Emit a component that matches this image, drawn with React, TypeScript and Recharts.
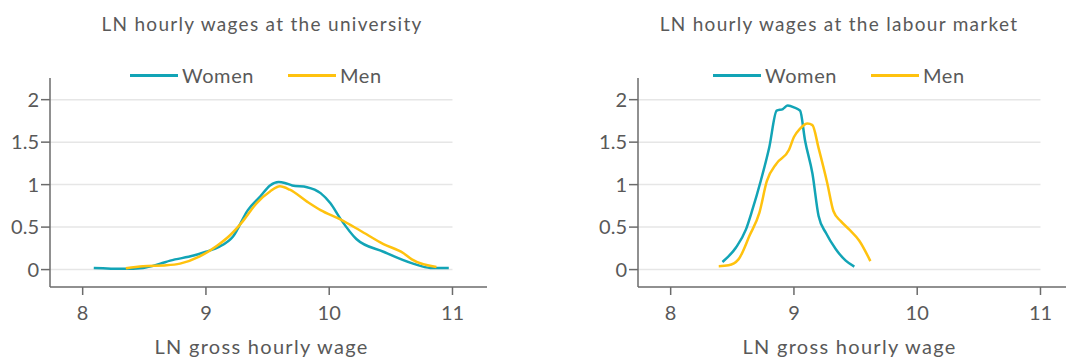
import React from 'react';
import { LineChart, Line, XAxis, YAxis, ReferenceLine } from 'recharts';

const xTicks = [8, 9, 10, 11];
const yTicks = [0, 0.5, 1, 1.5, 2];
const seriesNames = ['Women', 'Men'];
const seriesColors = ['#12a4b6', '#ffc20e'];

// Kernel density of ln hourly wage, university staff
const uniWomenX = [8.09, 8.33, 8.49, 8.63, 8.71, 8.9, 9.0, 9.11, 9.22, 9.34, 9.44, 9.52, 9.59, 9.64, 9.7, 9.82, 9.93, 10.01, 10.09, 10.22, 10.44, 10.68, 10.82, 10.97];
const uniWomenY = [0.02, 0.01, 0.02, 0.07, 0.105, 0.165, 0.21, 0.27, 0.39, 0.7, 0.86, 0.99, 1.03, 1.02, 0.99, 0.97, 0.9, 0.78, 0.6, 0.36, 0.21, 0.07, 0.02, 0.02];
const uniMenX = [8.35, 8.49, 8.68, 8.79, 8.95, 9.09, 9.2, 9.3, 9.41, 9.52, 9.6, 9.68, 9.82, 9.93, 10.09, 10.25, 10.44, 10.6, 10.67, 10.87];
const uniMenY = [0.015, 0.04, 0.05, 0.07, 0.155, 0.28, 0.41, 0.57, 0.78, 0.92, 0.98, 0.94, 0.8, 0.7, 0.59, 0.46, 0.3, 0.195, 0.12, 0.03];

// Kernel density of ln hourly wage, labour market
const labWomenX = [8.42, 8.53, 8.61, 8.66, 8.73, 8.8, 8.86, 8.91, 8.95, 9.0, 9.05, 9.09, 9.15, 9.2, 9.26, 9.34, 9.42, 9.49];
const labWomenY = [0.09, 0.26, 0.47, 0.69, 1.04, 1.44, 1.87, 1.89, 1.93, 1.91, 1.87, 1.52, 1.13, 0.63, 0.43, 0.24, 0.105, 0.035];
const labMenX = [8.39, 8.47, 8.55, 8.64, 8.72, 8.78, 8.86, 8.96, 9.0, 9.05, 9.11, 9.15, 9.2, 9.27, 9.32, 9.38, 9.45, 9.53, 9.62];
const labMenY = [0.04, 0.05, 0.12, 0.4, 0.67, 1.04, 1.25, 1.41, 1.56, 1.66, 1.72, 1.7, 1.43, 1.02, 0.69, 0.57, 0.47, 0.34, 0.1];

const toPoints = (xs: number[], ys: number[]) => xs.map((x, i) => ({ x, y: ys[i] }));

const TEXT = '#595959';
const AXIS = '#6b6b6b';
const FONT = 'Lato, "Noto Sans", sans-serif';
const X_DOMAIN: [number, number] = [7.735, 11.28];
const Y_DOMAIN: [number, number] = [-0.205, 2.255];

type ChartProps = {
  title: string;
  series: { x: number; y: number }[][];
  left: number;
  titleCenter: number;
  legendLeft: number;
  labelDx: number;
};

const WageChart: React.FC<ChartProps> = ({ title, series, left, titleCenter, legendLeft, labelDx }) => (
  <div style={{ position: 'absolute', left, top: 0, width: 540, height: 358 }}>
    <LineChart width={540} height={358} margin={{ top: 78, right: 53, bottom: 0, left: 0 }}>
      {yTicks.map((t) => (
        <ReferenceLine
          key={t}
          segment={[{ x: X_DOMAIN[0], y: t }, { x: 11, y: t }]}
          stroke="#e6e6e6"
          strokeWidth={1.5}
        />
      ))}
      <XAxis
        type="number"
        dataKey="x"
        domain={X_DOMAIN}
        ticks={xTicks}
        allowDataOverflow
        height={71}
        tickSize={8}
        tickMargin={11}
        stroke={AXIS}
        strokeWidth={1.5}
        tick={{ fill: TEXT, fontSize: 20, fontFamily: FONT }}
        label={{
          value: 'LN gross hourly wage', position: 'insideBottom', offset: 4, dx: labelDx,
          fill: TEXT, fontSize: 20, fontFamily: FONT, letterSpacing: 1.3,
        }}
      />
      <YAxis
        type="number"
        domain={Y_DOMAIN}
        ticks={yTicks}
        allowDataOverflow
        width={50}
        tickSize={9}
        tickMargin={2}
        stroke={AXIS}
        strokeWidth={1.5}
        tick={{ fill: TEXT, fontSize: 20, fontFamily: FONT }}
      />
      {series.map((pts, i) => (
        <Line
          key={seriesNames[i]}
          data={pts}
          dataKey="y"
          name={seriesNames[i]}
          type="monotone"
          stroke={seriesColors[i]}
          strokeWidth={2.5}
          dot={false}
          isAnimationActive={false}
        />
      ))}
    </LineChart>
    <div
      style={{
        position: 'absolute', top: 12, left: titleCenter - 250, width: 500, textAlign: 'center',
        fontSize: 19, letterSpacing: 1.3, color: TEXT, fontFamily: FONT,
      }}
    >
      {title}
    </div>
    {seriesNames.map((name, i) => (
      <div
        key={name}
        style={{
          position: 'absolute', top: 63, left: legendLeft + i * 158, display: 'flex', alignItems: 'center',
          fontSize: 20, letterSpacing: 0.6, color: TEXT, fontFamily: FONT, lineHeight: '24px',
        }}
      >
        <div style={{ width: 48, height: 3, background: seriesColors[i], marginRight: 4 }} />
        <span>{name}</span>
      </div>
    ))}
  </div>
);

export default function App() {
  return (
    <div style={{ position: 'absolute', left: 0, top: 0, width: 1066, height: 358, overflow: 'hidden', background: '#fff' }}>
      <WageChart
        title="LN hourly wages at the university"
        series={[toPoints(uniWomenX, uniWomenY), toPoints(uniMenX, uniMenY)]}
        left={0}
        titleCenter={262}
        legendLeft={130}
        labelDx={-7}
      />
      <WageChart
        title="LN hourly wages at the labour market"
        series={[toPoints(labWomenX, labWomenY), toPoints(labMenX, labMenY)]}
        left={588}
        titleCenter={251}
        legendLeft={125}
        labelDx={-7}
      />
    </div>
  );
}
